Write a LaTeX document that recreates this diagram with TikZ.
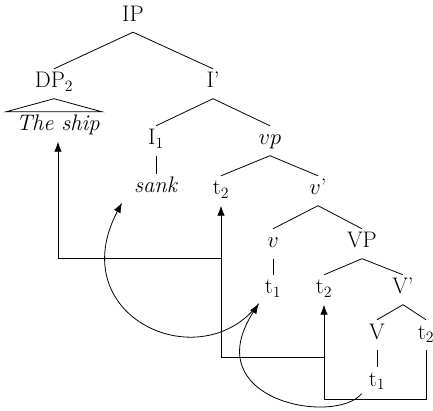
\RequirePackage{fix-cm}
\documentclass[tikz,border=0pt]{standalone}
\usetikzlibrary{calc,arrows.meta}
\begin{document}
\begin{tikzpicture}[x=1pt,y=-1pt,
  lbl/.style={inner sep=0pt, text height=19pt, text depth=10.5pt, anchor=base, font=\fontsize{22.5}{27}\selectfont},
  tree/.style={line width=0.8pt},
  arr/.style={line width=0.8pt, -{Latex[length=10pt,width=7.5pt]}}]
\useasboundingbox (0,0) rectangle (433,411);
% labels
\node[lbl] (IP)    at (133,21.5) {IP};
\node[lbl] (DP)    at (54,88)    {DP$_2$};
\node[lbl] (Ip)    at (213,88)   {I'};
\node[lbl] (ship)  at (58,131)   {\textit{The ship}};
\node[lbl] (I1)    at (156,145)  {I$_1$};
\node[lbl] (vp)    at (270,145)  {$vp$};
\node[lbl] (sank)  at (156,193)  {\textit{sank}};
\node[lbl] (t2a)   at (221,195)  {t$_2$};
\node[lbl] (vbar)  at (318,195)  {$v$'};
\node[lbl] (v)     at (273,248)  {$v$};
\node[lbl] (VP)    at (362,248)  {VP};
\node[lbl] (t1v)   at (273,294)  {t$_1$};
\node[lbl] (t2b)   at (324,294)  {t$_2$};
\node[lbl] (Vbar)  at (403,294)  {V'};
\node[lbl] (V)     at (377,339)  {V};
\node[lbl] (t2r)   at (426,339)  {t$_2$};
\node[lbl] (t1low) at (377,386)  {t$_1$};
% tree lines
\draw[tree] (IP.south) -- (DP.north);
\draw[tree] (IP.south) -- (Ip.north);
\draw[tree] (DP.south) -- ($(ship.north)+(-52,0)$) -- ($(ship.north)+(44,0)$) -- cycle;
\draw[tree] (Ip.south) -- (I1.north);
\draw[tree] (Ip.south) -- (vp.north);
\draw[tree] (I1.south) -- (sank.north);
\draw[tree] (vp.south) -- (t2a.north);
\draw[tree] (vp.south) -- (vbar.north);
\draw[tree] (vbar.south) -- (v.north);
\draw[tree] (vbar.south) -- (VP.north);
\draw[tree] (v.south) -- (t1v.north);
\draw[tree] (VP.south) -- (t2b.north);
\draw[tree] (VP.south) -- (Vbar.north);
\draw[tree] (Vbar.south) -- (V.north);
\draw[tree] (Vbar.south) -- (t2r.north);
\draw[tree] (V.south) -- (t1low.north);
% movement arrows
\draw[arr] (t2r.south) -- ++(0,49.5) -| (t2b.south);
\draw[arr] ($(t2b.south)+(0,52.5)$) -| (t2a.south);
\draw[arr] ($(t2a.south)+(0,52.5)$) -| (ship.south);
\draw[arr] ($(t1low.south west)+(-7,-3)$) .. controls +(-27,32) and +(-63,97) .. ($(t1v.south west)+(-6,-1)$);
\draw[arr] ($(t1v.south west)+(-6,-1)$) .. controls +(-58,76) and +(-60,114) .. ($(sank.south west)+(-12,-1)$);
\end{tikzpicture}
\end{document}
